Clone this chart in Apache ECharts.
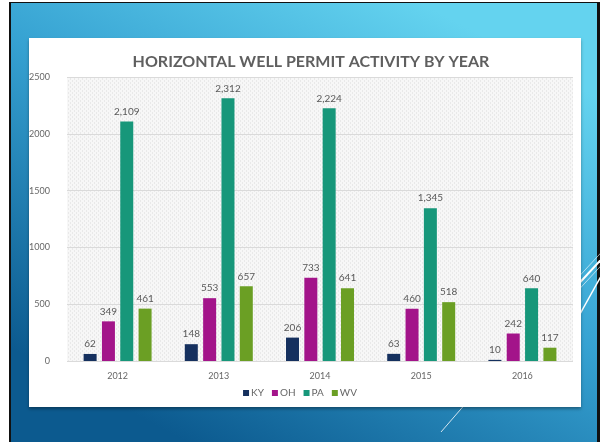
<!DOCTYPE html>
<html>
<head>
<meta charset="utf-8">
<script src="https://cdn.jsdelivr.net/npm/echarts@6/dist/echarts.min.js"></script>
<style>
  html, body { margin: 0; padding: 0; background: #fff; }
  #chart { width: 600px; height: 442px; }
</style>
</head>
<body>
<div id="chart"></div>
<script>
// data
const years = ["2012", "2013", "2014", "2015", "2016"];
const ky = [62, 148, 206, 63, 10];
const oh = [349, 553, 733, 460, 242];
const pa = [2109, 2312, 2224, 1345, 640];
const wv = [461, 657, 641, 518, 117];
const yTicks = [0, 500, 1000, 1500, 2000, 2500];

const states = [
  { name: "KY", data: ky, color: "#15305e" },
  { name: "OH", data: oh, color: "#a3148a" },
  { name: "PA", data: pa, color: "#17977a" },
  { name: "WV", data: wv, color: "#6b9f24" }
];

// light woven texture behind the plot
function makePattern() {
  const c = document.createElement("canvas");
  c.width = 4; c.height = 4;
  const g = c.getContext("2d");
  g.fillStyle = "#f7f7f7";
  g.fillRect(0, 0, 4, 4);
  g.fillStyle = "#e9e9e9";
  g.fillRect(0, 0, 1, 2);
  g.fillRect(2, 2, 1, 2);
  return c;
}

const labelGray = "#595959";
const font = "Lato";

let chart = echarts.init(document.getElementById("chart"), null, { renderer: "canvas" });

let options = {
  animation: false,
  textStyle: { fontFamily: font },
  graphic: [
    // slide frame + gradient
    { type: "rect", z: -10, shape: { x: 9, y: 2, width: 591, height: 440 }, style: { fill: "#111" } },
    {
      type: "rect", z: -9,
      shape: { x: 11, y: 3, width: 586, height: 439 },
      style: {
        fill: new echarts.graphic.LinearGradient(0.7, 0, 0.3, 1, [
          { offset: 0, color: "#64d3ef" },
          { offset: 0.45, color: "#36a2d2" },
          { offset: 1, color: "#0c5a8f" }
        ])
      }
    },
    // decorative strokes
    { type: "line", z: -8, shape: { x1: 610, y1: 243, x2: 560, y2: 297 }, style: { stroke: "rgba(255,255,255,0.6)", lineWidth: 1 } },
    { type: "line", z: -8, shape: { x1: 610, y1: 250, x2: 560, y2: 304 }, style: { stroke: "#fff", lineWidth: 2 } },
    { type: "line", z: -8, shape: { x1: 610, y1: 256, x2: 560, y2: 310 }, style: { stroke: "rgba(255,255,255,0.6)", lineWidth: 1 } },
    { type: "line", z: -8, shape: { x1: 610, y1: 260, x2: 560, y2: 350 }, style: { stroke: "#fff", lineWidth: 1.5 } },
    { type: "line", z: -8, shape: { x1: 480, y1: 387, x2: 441, y2: 432 }, style: { stroke: "rgba(255,255,255,0.8)", lineWidth: 1 } },
    // white chart panel
    {
      type: "rect", z: -7,
      shape: { x: 29, y: 38, width: 552, height: 369 },
      style: { fill: "#fff", shadowBlur: 3, shadowOffsetY: 2, shadowColor: "rgba(0,0,0,0.35)" }
    }
  ],
  title: {
    text: "HORIZONTAL WELL PERMIT ACTIVITY BY YEAR",
    left: 306,
    textAlign: "center",
    top: 49,
    textStyle: { fontFamily: font, fontSize: 16, fontWeight: "bold", color: "#5f5f5f" }
  },
  legend: {
    bottom: 39,
    left: "center",
    icon: "rect",
    itemWidth: 6,
    itemHeight: 6,
    itemGap: 8,
    textStyle: { fontFamily: font, fontSize: 10, color: "#666", padding: [0, 0, 0, -3] },
    data: states.map(s => s.name)
  },
  grid: {
    left: 67,
    right: 27,
    top: 77,
    bottom: 81,
    show: true,
    borderWidth: 0,
    backgroundColor: { image: makePattern(), repeat: "repeat" }
  },
  xAxis: {
    type: "category",
    data: years,
    axisLine: { show: false },
    axisTick: { show: false },
    axisLabel: { fontFamily: font, fontSize: 9, color: "#666", margin: 11 }
  },
  yAxis: {
    type: "value",
    min: yTicks[0],
    max: yTicks[yTicks.length - 1],
    interval: yTicks[1] - yTicks[0],
    axisLine: { show: false },
    axisTick: { show: false },
    axisLabel: { fontFamily: font, fontSize: 9, color: "#666", margin: 17, formatter: v => String(v) },
    splitLine: { lineStyle: { color: "#dadada", width: 1 } }
  },
  series: states.map(s => ({
    name: s.name,
    type: "bar",
    data: s.data,
    barWidth: 13,
    barGap: "41%",
    itemStyle: { color: s.color },
    label: {
      show: true,
      position: "top",
      distance: 5,
      fontFamily: font,
      fontSize: 10,
      color: labelGray,
      formatter: p => p.value.toLocaleString("en-US")
    }
  }))
};

chart.setOption(options);
</script>
</body>
</html>
